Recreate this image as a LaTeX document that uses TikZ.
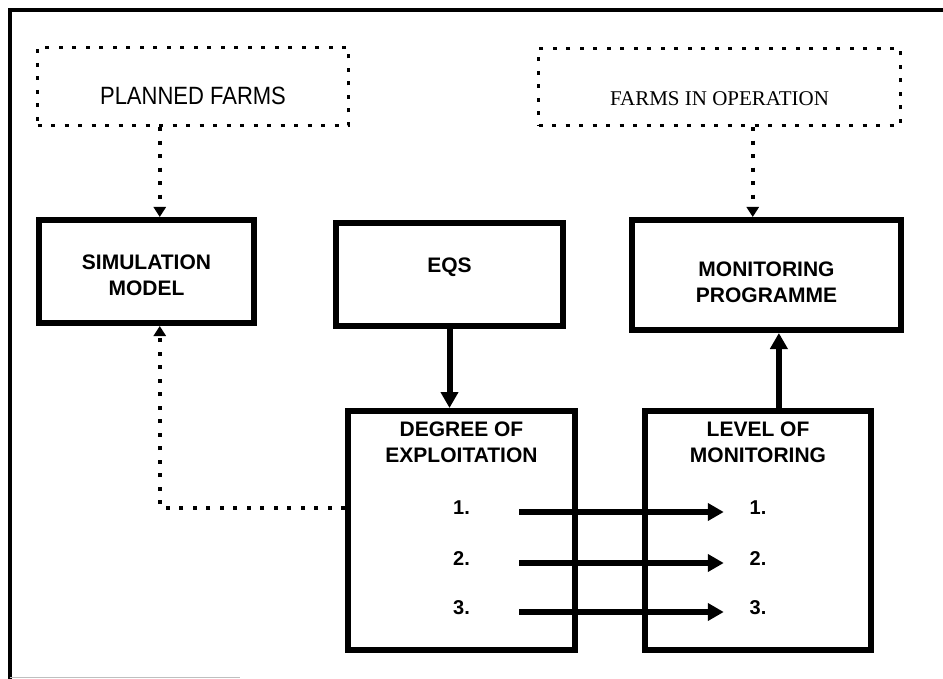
\documentclass[tikz,border=0pt]{standalone}
\usepackage{fontspec}
\setmainfont{Liberation Sans}
\newfontfamily\serifface{Liberation Serif}
\usetikzlibrary{arrows.meta, positioning, calc}

\begin{document}
\begin{tikzpicture}[x=1pt, y=-1pt,
    box/.style={rectangle, draw=black, line width=6pt, fill=white, inner sep=0pt},
    plan/.style={rectangle, draw=black, line width=3.5pt, dash pattern=on 4pt off 9.5pt, inner sep=0pt},
    lbl/.style={font=\fontsize{21pt}{26pt}\selectfont\bfseries, align=center, inner sep=0pt},
    num/.style={font=\fontsize{20pt}{24pt}\selectfont\bfseries, inner sep=0pt},
    flow/.style={line width=6pt, -{Triangle[length=16pt, width=17pt]}},
    feed/.style={line width=3.5pt, dash pattern=on 4pt off 9.5pt, -{Triangle[length=10pt, width=12pt]}}
]
    \useasboundingbox (0,0) rectangle (943,679);

    % Frame
    \draw[line width=4pt] (9.5,679) -- (9.5,10) -- (943,10);
    \draw[gray!50, line width=1pt] (9.5,677) -- (240,677);

    % Planned Farms
    \node[plan, minimum width=311pt, minimum height=78pt] (planned) at (193,86.5) {};
    \node[font=\fontsize{25pt}{28pt}\selectfont, inner sep=0pt, xscale=0.88, transform shape] at ([yshift=-9pt]planned.center) {PLANNED FARMS};

    % Farms in Operation
    \node[plan, minimum width=362pt, minimum height=77pt] (farmsop) at (719.5,87) {};
    \node[font=\fontsize{21pt}{26pt}\selectfont\serifface, inner sep=0pt] at ([yshift=-12pt]farmsop.center) {FARMS IN OPERATION};

    % Simulation Model
    \node[box, minimum width=215pt, minimum height=103pt] (sim) at (146.5,271.5) {};
    \node[lbl] at ([yshift=-4pt]sim.center) {SIMULATION\\MODEL};

    % EQS
    \node[box, minimum width=227pt, minimum height=103pt] (eqs) at (449.5,274.5) {};
    \node[lbl] at ([yshift=7.5pt]eqs.center) {EQS};

    % Monitoring Programme
    \node[box, minimum width=269pt, minimum height=110pt] (mon) at (766.5,275) {};
    \node[lbl] at ([yshift=-7.5pt]mon.center) {MONITORING\\PROGRAMME};

    % Degree of Exploitation
    \node[box, minimum width=227pt, minimum height=239pt] (deg) at (461.5,530.5) {};
    \node[lbl] at ([yshift=-34pt]deg.north) {DEGREE OF\\EXPLOITATION};
    \node[num] (dn1) at (461.5,508) {1.};
    \node[num] (dn2) at (461.5,559) {2.};
    \node[num] (dn3) at (461.5,608) {3.};

    % Level of Monitoring
    \node[box, minimum width=226pt, minimum height=239pt] (lvl) at (758,530.5) {};
    \node[lbl] at ([yshift=-34pt]lvl.north) {LEVEL OF\\MONITORING};
    \node[num] (ln1) at (758,508) {1.};
    \node[num] (ln2) at (758,559) {2.};
    \node[num] (ln3) at (758,608) {3.};

    % Connections
    \coordinate (sm) at ($(sim.north west)!0.56!(sim.north east)$);
    \coordinate (fb) at ($(sim.south west)!0.56!(sim.south east)$);
    \coordinate (fm) at ($(mon.north west)!0.45!(mon.north east)$);
    \coordinate (up) at ($(lvl.north west)!0.59!(lvl.north east)$);

    \draw[feed] (planned.south -| sm) -- (sm);
    \draw[feed] (farmsop.south -| fm) -- (fm);
    \draw[feed] (deg.west |- dn1) -| (fb);
    \draw[flow] (eqs.south) -- (eqs.south |- deg.north);
    \draw[flow] (up) -- (up |- mon.south);
    \foreach \i in {1,2,3}
        \draw[flow] ([shift={(49pt,-4pt)}]dn\i.east) -- ([shift={(-25.7pt,-4pt)}]ln\i.west);

\end{tikzpicture}
\end{document}
